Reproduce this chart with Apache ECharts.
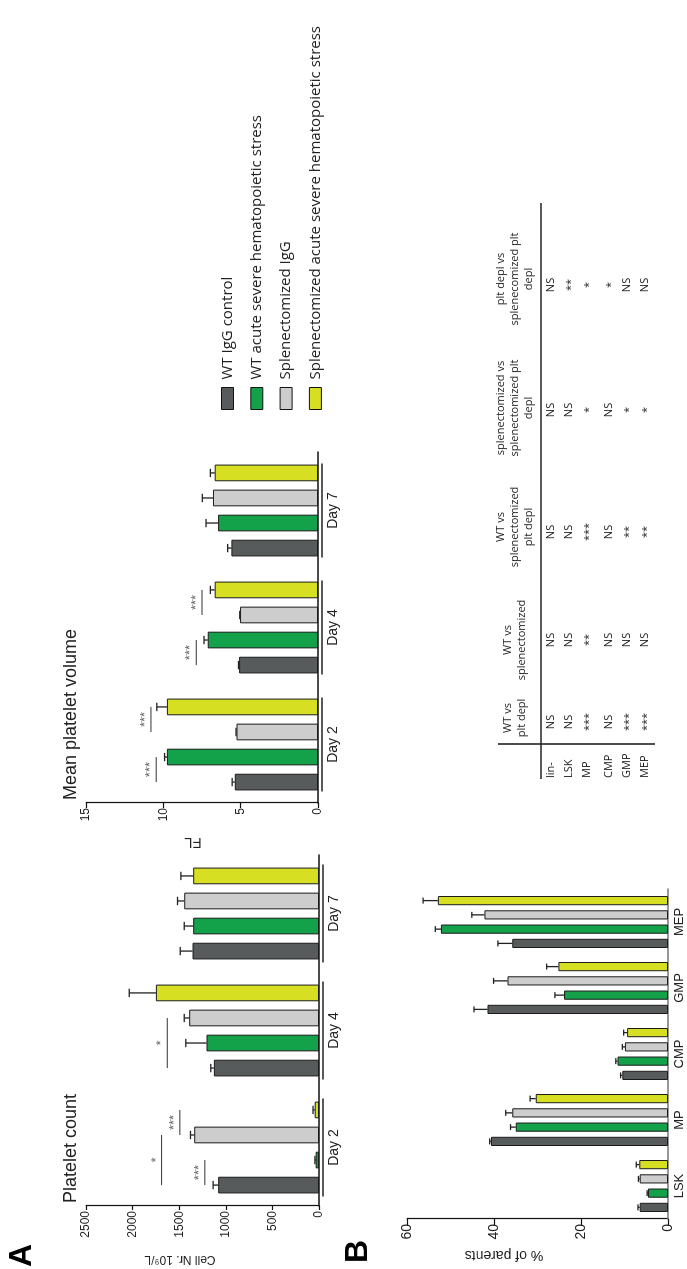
<!DOCTYPE html>
<html><head><meta charset="utf-8">
<script src="https://cdn.jsdelivr.net/npm/echarts@6/dist/echarts.min.js"></script>
<style>
html,body{margin:0;padding:0;width:687px;height:1269px;overflow:hidden;background:#fff;}
#chart{position:absolute;left:0;top:0;width:1269px;height:687px;transform-origin:0 0;transform:translateY(1269px) rotate(-90deg);}
</style></head><body><div id="chart"></div>
<script>
// ---------- data ----------
const groups = ['WT IgG control','WT acute severe hematopoietic stress','Splenectomized IgG','Splenectomized acute severe hematopoietic stress'];
const days = ['Day 2','Day 4','Day 7'];
// Platelet count (cell nr 10^9/L), one row per group, one value per day
const pltCount = [[1082,1128,1357],[36,1207,1350],[1339,1393,1446],[46,1750,1350]];
const pltSD    = [[54,33,132],[8,222,96],[40,53,72],[18,286,132]];
// Mean platelet volume (FL)
const mpv   = [[5.38,5.10,5.60],[9.77,7.13,6.46],[5.27,5.04,6.79],[9.77,6.68,6.68]];
const mpvSD = [[0.17,0.04,0.24],[0.15,0.24,0.78],[0.03,0.02,0.69],[0.65,0.28,0.28]];
// significance brackets: [day index, from bar, to bar, level]
const pltSig = [[0,0,1,1225],[0,0,2,1689],[0,2,3,1493],[1,0,2,1628]];
const pltSigText = ['***','*','***','*'];
const mpvSig = [[0,0,1,10.46],[0,2,3,10.8],[1,0,1,7.87],[1,2,3,7.5]];
const mpvSigText = ['***','***','***','***'];
// Panel B (% of parents)
const cells = ['LSK','MP','CMP','GMP','MEP'];
const pct   = [[6.5,40.7,10.5,41.5,35.8],[4.6,35.0,11.6,23.9,52.2],[6.5,35.8,9.9,36.9,42.2],[6.6,30.4,9.4,25.2,52.9]];
const pctSD = [[0.4,0.3,0.4,3.1,3.3],[0.2,1.2,0.4,2.1,1.3],[0.3,1.5,0.6,3.2,2.9],[0.7,1.3,0.8,2.7,3.4]];
// axis ranges / tick steps
const pltAxis = [0,2500,500];
const mpvAxis = [0,15,5];
const pctAxis = [0,60,20];
// statistics table
const tableRows = ['lin-','LSK','MP','CMP','GMP','MEP'];
const tableHeads = ['WT vs\nplt depl','WT vs\nsplenectomized','WT vs\nsplenectomized\nplt depl','splenectomized vs\nsplenectomized plt\ndepl','plt depl vs\nsplenecomized plt\ndepl'];
const tableCols = [
  ['NS','NS','***','NS','***','***'],
  ['NS','NS','**','NS','NS','NS'],
  ['NS','NS','***','NS','**','**'],
  ['NS','NS','*','NS','*','*'],
  ['NS','**','*','*','NS','NS']
];

// ---------- style / layout ----------
const colors = ['#585b5b','#13a14a','#cdcdcd','#d7df23'];
const AF = 'Liberation Sans, Arial, sans-serif';
const LF = 'Open Sans, sans-serif';
const barA = {w:16.7, gap:0.5};
const barB = {w:9.2, gap:0.55};
const pitch = b => b.w*(1+b.gap);

const chart = echarts.init(document.getElementById('chart'));

function errRender(b){
  const p = pitch(b), cap = Math.max(6, b.w*0.5);
  return function(params, api){
    const c = api.value(0), v = api.value(1), e = api.value(2), k = api.value(3);
    const p0 = api.coord([c, v]), p1 = api.coord([c, v+e]);
    const x = p0[0] + (k-1.5)*p;
    const st = {stroke:'#222', lineWidth:1.3};
    return {type:'group', children:[
      {type:'line', shape:{x1:x,y1:p0[1],x2:x,y2:p1[1]}, style:st},
      {type:'line', shape:{x1:x-cap/2,y1:p1[1],x2:x+cap/2,y2:p1[1]}, style:st}
    ]};
  };
}
function sigRender(b, texts){
  const p = pitch(b);
  return function(params, api){
    const c = api.value(0), a = api.value(1), bb = api.value(2), lv = api.value(3);
    const q = api.coord([c, lv]);
    const x1 = q[0]+(a-1.5)*p, x2 = q[0]+(bb-1.5)*p;
    return {type:'group', children:[
      {type:'line', shape:{x1:x1,y1:q[1],x2:x2,y2:q[1]}, style:{stroke:'#333', lineWidth:1}},
      {type:'text', x:(x1+x2)/2, y:q[1]+1, style:{text:texts[params.dataIndex], fill:'#666', font:'13px '+AF, align:'center', verticalAlign:'bottom', textAlign:'center', textVerticalAlign:'bottom'}}
    ]};
  };
}
function underRender(half){
  return function(params, api){
    const q = api.coord([api.value(0), 0]);
    return {type:'line', shape:{x1:q[0]-half,y1:q[1]+4,x2:q[0]+half,y2:q[1]+4}, style:{stroke:'#222', lineWidth:1.5}};
  };
}

const series = [];
function addPanel(gi, vals, sds, b, sig, sigText, under){
  vals.forEach((row, k) => {
    series.push({type:'bar', name:groups[k], xAxisIndex:gi, yAxisIndex:gi, data:row,
      barWidth:b.w, barGap:(b.gap*100)+'%',
      itemStyle:{color:colors[k], borderColor:'#1b1b1b', borderWidth:1}, z:2, silent:true});
  });
  const err = [];
  vals.forEach((row,k)=>row.forEach((v,c)=>err.push([c, v, sds[k][c], k])));
  series.push({type:'custom', xAxisIndex:gi, yAxisIndex:gi, data:err, encode:{x:0,y:1}, renderItem:errRender(b), z:4, silent:true});
  if (sig) series.push({type:'custom', xAxisIndex:gi, yAxisIndex:gi, data:sig, encode:{x:0,y:3}, renderItem:sigRender(b, sigText), z:4, silent:true});
  if (under) series.push({type:'custom', xAxisIndex:gi, yAxisIndex:gi, data:vals[0].map((v,c)=>[c,0]), encode:{x:0,y:1}, renderItem:underRender(under), z:4, silent:true, clip:false});
}
addPanel(0, pltCount, pltSD, barA, pltSig, pltSigText, 49);
addPanel(1, mpv, mpvSD, barA, mpvSig, mpvSigText, 47);
addPanel(2, pct, pctSD, barB, null, null, 0);

function catAxis(gi, data, fs, margin, lineColor){
  return {type:'category', gridIndex:gi, data:data,
    axisLine:{lineStyle:{color:lineColor, width:1.5}}, axisTick:{show:false},
    axisLabel:{fontSize:fs, margin:margin, color:'#222', fontFamily:AF}};
}
function valAxis(gi, ax, name, nameSize, nameGap, namePad, fs, tickLen){
  return {type:'value', gridIndex:gi, min:ax[0], max:ax[1], interval:ax[2],
    axisLine:{show:true, lineStyle:{color:'#111', width:1.2}},
    axisTick:{show:true, length:tickLen, lineStyle:{color:'#111', width:1.2}},
    splitLine:{show:false},
    axisLabel:{fontSize:fs, color:'#222', margin:5, fontFamily:AF, formatter:v=>String(v)},
    name:name, nameLocation:'middle', nameGap:nameGap,
    nameTextStyle:{fontSize:nameSize, color:'#222', fontFamily:AF, padding:[0,0,0,namePad]}};
}

// table graphics
const colX = [551, 629, 742, 861, 990];
const valX = [547, 629, 737, 859, 984];
const rowY = [551, 569, 587, 609, 627, 645];
const tfont = '11px '+LF;
const gfx = [];
tableHeads.forEach((h,i)=>gfx.push({type:'text', x:colX[i], y:515, style:{text:h, font:tfont, fill:'#222', lineHeight:14, align:'center', verticalAlign:'middle', textAlign:'center', textVerticalAlign:'middle'}}));
tableRows.forEach((r,j)=>gfx.push({type:'text', x:491, y:rowY[j], style:{text:r, font:tfont, fill:'#222', align:'left', verticalAlign:'middle', textAlign:'left', textVerticalAlign:'middle'}}));
tableCols.forEach((col,i)=>col.forEach((v,j)=>gfx.push({type:'text', x:valX[i], y:rowY[j] + (v.indexOf('*')===0?2:0), style:{text:v, font:tfont, fill:'#222', align:'center', verticalAlign:'middle', textAlign:'center', textVerticalAlign:'middle'}})));
gfx.push({type:'line', shape:{x1:490,y1:541,x2:1066,y2:541}, style:{stroke:'#222', lineWidth:1.6}});
gfx.push({type:'line', shape:{x1:525,y1:498,x2:525,y2:655}, style:{stroke:'#222', lineWidth:1.6}});
// panel letters
gfx.push({type:'text', x:2, y:22, style:{text:'A', font:'bold 32px '+AF, fill:'#000', verticalAlign:'middle', textVerticalAlign:'middle'}});
gfx.push({type:'text', x:6, y:358, style:{text:'B', font:'bold 32px '+AF, fill:'#000', verticalAlign:'middle', textVerticalAlign:'middle'}});

chart.setOption({
  animation:false,
  backgroundColor:'#fff',
  textStyle:{fontFamily:AF},
  title:[
    {text:'Platelet count', left:66, top:62.5, padding:0, textStyle:{fontSize:18, fontWeight:'normal', color:'#222', lineHeight:18, fontFamily:AF}},
    {text:'Mean platelet volume', left:469, top:62, padding:0, textStyle:{fontSize:18, fontWeight:'normal', color:'#222', lineHeight:18, fontFamily:AF}}
  ],
  legend:{data:groups, orient:'vertical', left:859, top:220, padding:0, itemWidth:22, itemHeight:12, itemGap:14.3,
    icon:'rect', selectedMode:false,
    itemStyle:{borderColor:'#111', borderWidth:1},
    textStyle:{fontFamily:LF, fontSize:15, color:'#222', lineHeight:15, padding:[0,0,0,3]}},
  grid:[
    {left:63, top:86, width:351, height:233},
    {left:466, top:86, width:351, height:232},
    {left:50, top:407, width:330, height:261}
  ],
  xAxis:[catAxis(0, days, 14, 8, '#111'), catAxis(1, days, 14, 8, '#111'), catAxis(2, cells, 13, 5, '#777')],
  yAxis:[
    valAxis(0, pltAxis, 'Cell Nr. 10⁹/L', 12, 47, 45, 12, 4),
    valAxis(1, mpvAxis, 'FL', 15, 32, 18, 12, 5),
    valAxis(2, pctAxis, '% of parents', 14, 29, 67, 14, 7)
  ],
  graphic:gfx,
  series:series
});
</script></body></html>
